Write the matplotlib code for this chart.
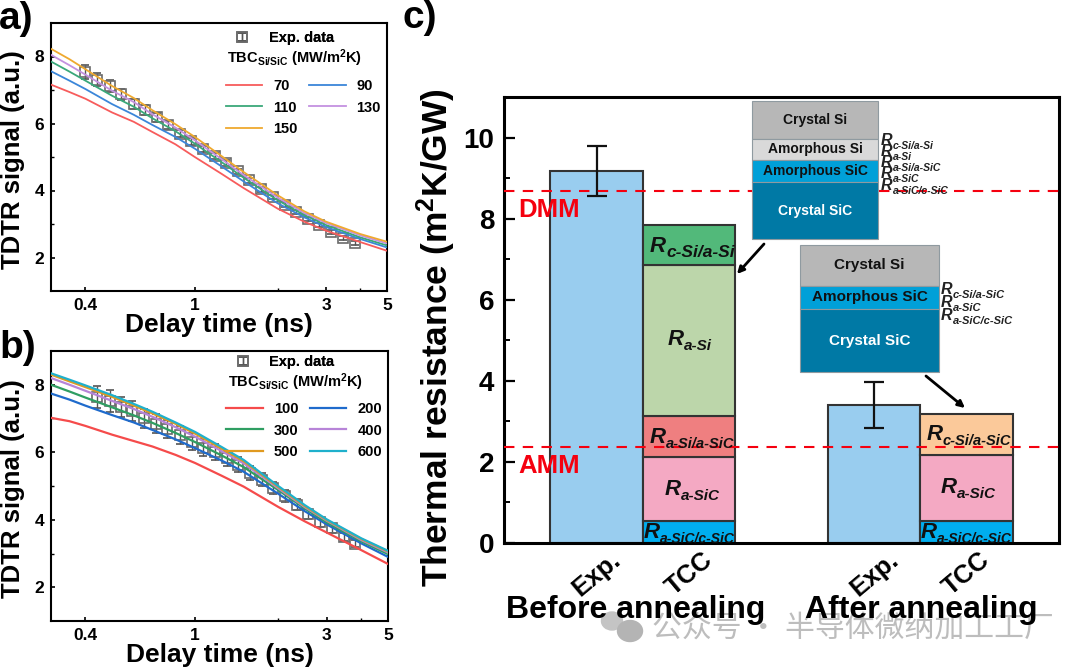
import matplotlib
matplotlib.use("Agg")
import matplotlib.pyplot as plt
from matplotlib.container import ErrorbarContainer
from matplotlib.legend_handler import HandlerErrorbar
from matplotlib.patches import Rectangle, Ellipse
from matplotlib.ticker import FixedLocator, NullFormatter

plt.rcParams["font.family"] = ["Liberation Sans", "DejaVu Sans"]
plt.rcParams["font.weight"] = "bold"
plt.rcParams["axes.labelweight"] = "bold"
plt.rcParams["mathtext.fontset"] = "custom"
plt.rcParams["mathtext.rm"] = "Liberation Sans:bold"
plt.rcParams["mathtext.bf"] = "Liberation Sans:bold"
plt.rcParams["mathtext.it"] = "Liberation Sans:italic:bold"

W, H = 1080, 668

# model curves share one time axis
times = [0.3, 0.35, 0.4, 0.5, 0.6, 0.7, 0.85, 1, 1.25, 1.5, 2, 2.5, 3, 4, 5]

a_70 = [7.16, 6.94, 6.74, 6.33, 6.05, 5.75, 5.38, 5.0, 4.5, 4.08, 3.46, 3.07, 2.80, 2.46, 2.20]
a_90 = [7.56, 7.28, 7.03, 6.58, 6.26, 5.96, 5.6, 5.25, 4.72, 4.28, 3.62, 3.2, 2.91, 2.55, 2.30]
a_110 = [7.85, 7.55, 7.28, 6.83, 6.5, 6.16, 5.77, 5.4, 4.85, 4.39, 3.71, 3.27, 2.97, 2.60, 2.36]
a_130 = [8.05, 7.74, 7.46, 6.98, 6.64, 6.28, 5.88, 5.5, 4.94, 4.47, 3.79, 3.33, 3.03, 2.66, 2.42]
a_150 = [8.23, 7.92, 7.62, 7.12, 6.76, 6.4, 5.98, 5.6, 5.03, 4.56, 3.86, 3.38, 3.07, 2.70, 2.47]

b_100 = [7.02, 6.92, 6.78, 6.52, 6.33, 6.17, 5.92, 5.68, 5.3, 4.98, 4.38, 3.95, 3.62, 3.1, 2.69]
b_200 = [7.74, 7.56, 7.38, 7.1, 6.88, 6.66, 6.38, 6.12, 5.75, 5.42, 4.77, 4.25, 3.86, 3.3, 2.9]
b_300 = [8.0, 7.8, 7.62, 7.33, 7.09, 6.87, 6.57, 6.3, 5.9, 5.56, 4.88, 4.33, 3.92, 3.36, 2.98]
b_400 = [8.2, 8.0, 7.82, 7.52, 7.28, 7.05, 6.74, 6.46, 6.03, 5.67, 4.93, 4.37, 3.97, 3.4, 3.03]
b_500 = [8.3, 8.1, 7.93, 7.64, 7.38, 7.15, 6.84, 6.55, 6.1, 5.73, 4.97, 4.4, 3.99, 3.43, 3.06]
b_600 = [8.34, 8.15, 7.98, 7.69, 7.43, 7.2, 6.88, 6.6, 6.15, 5.77, 5.0, 4.43, 4.01, 3.45, 3.08]

# measured points
a_exp_t = [0.40, 0.44, 0.49, 0.54, 0.60, 0.66, 0.73, 0.80, 0.88, 0.97, 1.07, 1.18,
           1.30, 1.43, 1.58, 1.74, 1.92, 2.12, 2.33, 2.57, 2.83, 3.13, 3.45, 3.82]
a_exp_y = [7.54, 7.31, 7.11, 6.87, 6.57, 6.40, 6.18, 5.96, 5.70, 5.47, 5.24, 5.03,
           4.82, 4.57, 4.30, 4.03, 3.81, 3.58, 3.36, 3.16, 2.96, 2.77, 2.59, 2.43]
a_exp_e = [0.2, 0.19, 0.18, 0.16, 0.15, 0.14, 0.13, 0.12, 0.11, 0.1, 0.1, 0.09,
           0.09, 0.08, 0.08, 0.07, 0.07, 0.07, 0.06, 0.06, 0.06, 0.06, 0.06, 0.06]

b_exp_t = [0.44, 0.49, 0.54, 0.59, 0.65, 0.72, 0.79, 0.88, 0.97, 1.07, 1.18, 1.30,
           1.43, 1.58, 1.74, 1.92, 2.12, 2.33, 2.57, 2.84, 3.13, 3.45, 3.81]
b_exp_y = [7.64, 7.52, 7.34, 7.23, 7.0, 6.85, 6.69, 6.51, 6.31, 6.14, 6.0, 5.82,
           5.63, 5.38, 5.19, 4.94, 4.70, 4.45, 4.16, 3.94, 3.75, 3.5, 3.29]
b_exp_e = [0.32, 0.32, 0.3, 0.29, 0.28, 0.27, 0.26, 0.26, 0.25, 0.25, 0.24, 0.23,
           0.22, 0.21, 0.2, 0.18, 0.17, 0.16, 0.15, 0.14, 0.13, 0.12, 0.11]

# bar values for panel c
bar_labels = ["Exp.", "TCC", "Exp.", "TCC"]
bar_pos = [1, 2, 4, 5]
exp_vals = [9.17, 3.40]
exp_errs = [0.62, 0.57]
before_layers = [0.55, 1.57, 1.00, 3.73, 1.00]
after_layers = [0.55, 1.62, 1.01]
dmm = 8.67
amm = 2.37


def px_axes(left, top, right, bottom):
    return fig.add_axes([left / W, 1 - bottom / H, (right - left) / W, (bottom - top) / H])


def tdtr_panel(ax, curves, colors, lw, exp_t, exp_y, exp_e, leg_top, exp_top, tbc_y):
    ax.errorbar(exp_t, exp_y, yerr=exp_e, fmt="s", ms=6.5, mfc="none", mec="#6a6a6a", mew=1.2,
                ecolor="#555555", elinewidth=1.0, capsize=3, capthick=1.0, zorder=2, label="Exp. data")
    handles = []
    for (name, vals), col in zip(curves, colors):
        line, = ax.plot(times, vals, color=col, lw=lw, label=name, zorder=3)
        handles.append(line)
    ax.set_xscale("log")
    ax.set_xlim(0.3, 5)
    ax.set_ylim(1, 9)
    ax.xaxis.set_major_locator(FixedLocator([0.4, 1, 3, 5]))
    ax.xaxis.set_minor_locator(FixedLocator([2, 4]))
    ax.xaxis.set_major_formatter(plt.FixedFormatter(["0.4", "1", "3", "5"]))
    ax.xaxis.set_minor_formatter(NullFormatter())
    ax.set_yticks([2, 4, 6, 8])
    ax.set_yticks([3, 5, 7], minor=True)
    ax.tick_params(which="major", direction="in", length=3, width=1.2, labelsize=12.5, pad=5)
    ax.tick_params(which="minor", direction="in", length=2, width=1.0)
    for spine in ax.spines.values():
        spine.set_linewidth(1.5)
    ax.set_xlabel("Delay time (ns)", fontsize=19, labelpad=0)
    ax.set_ylabel("TDTR signal (a.u.)", fontsize=18.5)
    ax.yaxis.set_label_coords(-0.077, 0.49)

    # column-first order: left column gets the odd entries
    order = handles[0::2] + handles[1::2]
    leg = ax.legend(handles=order, ncol=2, frameon=False, fontsize=10.5, loc="upper left",
                    bbox_to_anchor=(0.52, leg_top), borderpad=0, borderaxespad=0, handlelength=2.5,
                    handletextpad=0.75, columnspacing=0.8, labelspacing=0.5)
    ax.add_artist(leg)
    ebar = ax.containers[0]
    leg2 = ax.legend([ebar], ["Exp. data"], frameon=False, fontsize=10.5, loc="upper left",
                     bbox_to_anchor=(0.535, exp_top), borderpad=0, borderaxespad=0,
                     handlelength=1.6, handletextpad=1.0,
                     handler_map={ErrorbarContainer: HandlerErrorbar(yerr_size=0.3)})
    ax.add_artist(leg2)
    ax.text(0.725, tbc_y, r"TBC$_{\mathbf{Si/SiC}}$ (MW/m$^{\mathbf{2}}$K)", transform=ax.transAxes,
            ha="center", va="center", fontsize=10.5)


def r_label(x, y, sub, size, sub_size, color="#111111"):
    # baseline positions in image pixels, R and its subscript are two texts so hyphens stay hyphens
    over.text(x, y, "R", fontsize=size, style="italic", va="baseline", ha="left", color=color)
    over.text(x + size * 1.389 * 0.72, y + size * 0.32, sub, fontsize=sub_size, style="italic",
              va="baseline", ha="left", color=color)


def stack_schematic(left, right, layers, text_size):
    for top, bottom, col, name, txt_col in layers:
        over.add_patch(Rectangle((left, top), right - left, bottom - top, facecolor=col,
                                 edgecolor="#8f9aa0", lw=0.8))
        over.text((left + right) / 2, (top + bottom) / 2, name, ha="center", va="center",
                  fontsize=text_size, color=txt_col)


fig = plt.figure(figsize=(W / 100, H / 100), dpi=100)

# panels a and b
ax_a = px_axes(51, 23, 387, 291)
tdtr_panel(ax_a, [("70", a_70), ("90", a_90), ("110", a_110), ("130", a_130), ("150", a_150)],
           ["#f75c5c", "#3b86d9", "#3aa87a", "#c491e0", "#efa92f"], 1.3,
           a_exp_t, a_exp_y, a_exp_e, 0.79, 0.97, 0.868)

ax_b = px_axes(51, 351, 388, 621)
tdtr_panel(ax_b, [("100", b_100), ("200", b_200), ("300", b_300), ("400", b_400), ("500", b_500), ("600", b_600)],
           ["#f54b4b", "#1f6bcc", "#2f9e62", "#b784d8", "#e09a20", "#1fb0cc"], 1.6,
           b_exp_t, b_exp_y, b_exp_e, 0.81, 0.985, 0.885)

# panel c
ax_c = px_axes(504, 97, 1059, 543)
ax_c.bar([bar_pos[0], bar_pos[2]], exp_vals, width=1, color="#99cdef", edgecolor="#333333", lw=1.5, zorder=2)
ax_c.errorbar([bar_pos[0], bar_pos[2]], exp_vals, yerr=exp_errs, fmt="none", ecolor="#111111",
              elinewidth=1.6, capsize=7, capthick=1.6, zorder=3)

before_cols = ["#00aeef", "#f4a9c3", "#ef7f80", "#bcd6aa", "#52b97a"]
after_cols = ["#00aeef", "#f4a9c3", "#fbc99a"]
base = 0
for val, col in zip(before_layers, before_cols):
    ax_c.bar(bar_pos[1], val, bottom=base, width=1, color=col, edgecolor="#333333", lw=1.5, zorder=2)
    base += val
base = 0
for val, col in zip(after_layers, after_cols):
    ax_c.bar(bar_pos[3], val, bottom=base, width=1, color=col, edgecolor="#333333", lw=1.5, zorder=2)
    base += val

ax_c.axhline(dmm, color="#f5000f", ls=(0, (5, 4)), lw=1.5, zorder=4)
ax_c.axhline(amm, color="#f5000f", ls=(0, (5, 4)), lw=1.5, zorder=4)

ax_c.set_xlim(0, 6)
ax_c.set_ylim(0, 11)
ax_c.set_xticks(bar_pos)
ax_c.set_xticklabels(bar_labels, rotation=40, fontsize=18.5, ha="center", rotation_mode="default")
ax_c.set_yticks([0, 2, 4, 6, 8, 10])
ax_c.set_yticks([1, 3, 5, 7, 9], minor=True)
ax_c.tick_params(axis="x", length=0, pad=3)
ax_c.tick_params(axis="y", which="major", direction="in", length=8, width=1.6, labelsize=20, pad=7)
ax_c.tick_params(axis="y", which="minor", direction="in", length=4, width=1.4)
for spine in ax_c.spines.values():
    spine.set_linewidth(2.2)
ax_c.set_ylabel(r"Thermal resistance (m$^{\mathbf{2}}$K/GW)", fontsize=25.5)
ax_c.yaxis.set_label_coords(-0.083, 0.46)

# everything placed by image position goes on a transparent overlay
over = fig.add_axes([0, 0, 1, 1], zorder=10)
over.set_xlim(0, W)
over.set_ylim(H, 0)
over.axis("off")

over.text(-1, 29, "a)", fontsize=28, va="baseline")
over.text(-1, 358, "b)", fontsize=28, va="baseline")
over.text(402, 28, "c)", fontsize=28, va="baseline")

over.text(549, 217, "DMM", color="#f5000f", fontsize=18.5, ha="center", va="baseline")
over.text(549, 473, "AMM", color="#f5000f", fontsize=18.5, ha="center", va="baseline")

# watermark sits under the group labels
over.add_patch(Ellipse((612, 621), 21, 18, color="#c4c4c4", zorder=1))
over.add_patch(Ellipse((630, 631), 25, 21, color="#b4b4b4", zorder=1))
over.text(652, 628, "公众号 · 半导体微纳加工工厂", fontsize=21.5, color="#bdbdbd", ha="left", va="center",
          family=["Noto Sans CJK SC", "DejaVu Sans"], fontweight="normal", zorder=1)

over.text(636, 618, "Before annealing", fontsize=23, ha="center", va="baseline", zorder=3)
over.text(921, 618, "After annealing", fontsize=23, ha="center", va="baseline", zorder=3)

# labels inside the stacked bars
r_label(650, 252, "c-Si/a-Si", 16, 12.5)
r_label(668, 345, "a-Si", 16, 11)
r_label(650, 443, "a-Si/a-SiC", 16, 10.5)
r_label(665, 495, "a-SiC", 16, 11)
r_label(644, 538, "a-SiC/c-SiC", 16, 10)
r_label(927, 440, "c-Si/a-SiC", 16, 10.5)
r_label(941, 493, "a-SiC", 16, 11)
r_label(921, 538, "a-SiC/c-SiC", 16, 10)

# layer schematics
stack_schematic(752, 878, [(101, 139, "#b7b7b7", "Crystal Si", "#111111"),
                           (139, 160, "#d9d9d9", "Amorphous Si", "#111111"),
                           (160, 182, "#00a0d8", "Amorphous SiC", "#111111"),
                           (182, 239, "#0079a5", "Crystal SiC", "white")], 10)
stack_schematic(800, 939, [(245, 286, "#b7b7b7", "Crystal Si", "#111111"),
                           (286, 309, "#00a0d8", "Amorphous SiC", "#111111"),
                           (309, 372, "#0079a5", "Crystal SiC", "white")], 11)

for y, sub in zip([145, 156, 167, 178, 190],
                  ["c-Si/a-Si", "a-Si", "a-Si/a-SiC", "a-SiC", "a-SiC/c-SiC"]):
    r_label(881, y, sub, 11.5, 7.5, color="#222222")
for y, sub in zip([294, 307, 320], ["c-Si/a-SiC", "a-SiC", "a-SiC/c-SiC"]):
    r_label(941, y, sub, 11.5, 8, color="#222222")

over.annotate("", xy=(737, 274), xytext=(764, 244),
              arrowprops=dict(arrowstyle="-|>", color="black", lw=2, shrinkA=0, shrinkB=0))
over.annotate("", xy=(965, 408), xytext=(926, 376),
              arrowprops=dict(arrowstyle="-|>", color="black", lw=2, shrinkA=0, shrinkB=0))

fig.savefig("out.png", dpi=100)
